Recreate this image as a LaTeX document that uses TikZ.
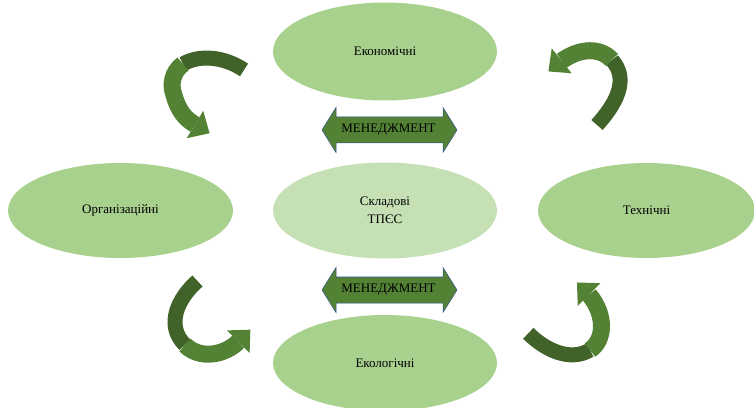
\documentclass[tikz,border=0pt]{standalone}
\usepackage{fontspec}
\setmainfont{Liberation Serif}
\usetikzlibrary{calc,shapes.geometric}
\definecolor{ellgreen}{HTML}{A9D18E}
\definecolor{ellpale}{HTML}{C5E0B4}
\definecolor{arrlight}{HTML}{548235}
\definecolor{arrdark}{HTML}{41632A}
\definecolor{arredge}{HTML}{2F528F}
\newcommand\greenhead[2]{% #1 base coordinate, #2 direction angle
  \pgfmathsetmacro\ghL{#2+90}\pgfmathsetmacro\ghR{#2-90}%
  \fill[arrlight] ($(#1)+(\ghL:16pt)$) -- ($(#1)+(#2:17pt)$) -- ($(#1)+(\ghR:16pt)$) -- cycle;}
\begin{document}
\begin{tikzpicture}[x=1pt,y=1pt,
  ell/.style={ellipse, fill=ellgreen, inner sep=0pt, font=\fontsize{13}{18}\selectfont, align=center},
  darkband/.style={draw=arrdark, line width=15pt},
  lightband/.style={draw=arrlight, line width=17pt},
  mgmt/.style={fill=arrlight, draw=arredge, line width=0.5pt},
  mgmtlabel/.style={font=\fontsize{13}{15}\selectfont, inner sep=0pt}]
\useasboundingbox (0,0) rectangle (754,407);
\clip (0,0) rectangle (754,407);
% ellipses
\node[ell, minimum width=224pt, minimum height=98pt] (eco) at (385,355.5) {Економічні};
\node[ell, minimum width=225pt, minimum height=95pt] (org) at (120.5,196.5) {Організаційні};
\node[ell, fill=ellpale, minimum width=224pt, minimum height=96pt] (core) at (385,196.5) {Складові\\ТПЄС};
\node[ell, minimum width=217pt, minimum height=95pt] (tech) at (646.5,196.5) {Технічні};
\node[ell, minimum width=224pt, minimum height=96pt] (eko) at (385,44) {Екологічні};
% double arrows
\fill[mgmt] (322,277) -- (336,299.5) -- (336,290) -- (443,290) -- (443,299.5) -- (457,277)
  -- (443,254.5) -- (443,264) -- (336,264) -- (336,254.5) -- cycle;
\node[mgmtlabel] (m1) at (388.5,277) {МЕНЕДЖМЕНТ};
\fill[mgmt] (322,117) -- (336,139.5) -- (336,130) -- (443,130) -- (443,139.5) -- (457,117)
  -- (443,94.5) -- (443,104) -- (336,104) -- (336,94.5) -- cycle;
\node[mgmtlabel] (m2) at (388.5,117) {МЕНЕДЖМЕНТ};
% top-left curved arrow
\draw[darkband] (244,337) .. controls (225,350) and (200,353) .. (183,343);
\draw[lightband] (183,343) .. controls (172,335) and (170,322) .. (174,312) .. controls (178,297) and (185,288) .. (195,282.5);
\coordinate (h1) at (195,282.5);
\greenhead{h1}{-31}
% top-right curved arrow
\draw[darkband] (597,282) .. controls (615,302) and (630,327) .. (612,347);
\draw[lightband] (612,347) .. controls (600,360) and (580,359) .. (561.7,346.2);
\coordinate (h2) at (561.7,346.2);
\greenhead{h2}{218.7}
% bottom-left curved arrow
\draw[darkband] (197.5,126) .. controls (178,109) and (165,82) .. (185,62);
\draw[lightband] (185,62) .. controls (200,47) and (225,52) .. (238.3,65.3);
\coordinate (h3) at (238.3,65.3);
\greenhead{h3}{45}
% bottom-right curved arrow
\draw[darkband] (528.3,73.7) .. controls (545,57) and (570,45) .. (590,57);
\draw[lightband] (590,57) .. controls (605,67) and (606,92) .. (589,112.5);
\coordinate (h4) at (589,112.5);
\greenhead{h4}{135}
\end{tikzpicture}
\end{document}
